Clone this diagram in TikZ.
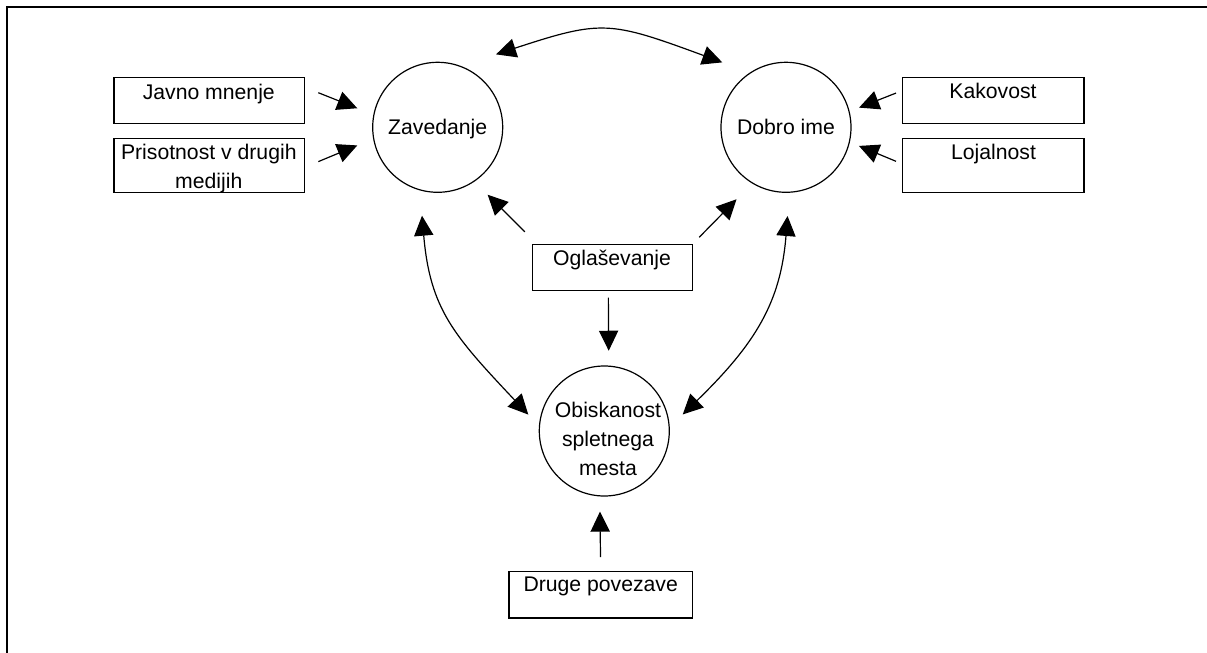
\documentclass[tikz,border=0pt]{standalone}
\usepackage{fontspec}
\setmainfont{Liberation Sans}
\usetikzlibrary{arrows.meta}

\tikzset{
  % one unit = one pixel of the layout grid, y grows downwards
  lw/.style={line width=0.6pt},
  circ/.style={draw, lw, circle, minimum size=65pt, inner sep=0pt, outer sep=0pt,
               text depth=0pt},
  box/.style={draw, lw, rectangle, inner sep=0pt, outer sep=0pt},
  lbl/.style={inner sep=0pt, outer sep=0pt},
  tip/.tip={Triangle[length=10pt,width=9.6pt]},
  arr/.style={lw, -tip},
  dbl/.style={lw, tip-tip},
}

\begin{document}
\begin{tikzpicture}[x=0.5pt, y=-0.5pt,
    every node/.style={font=\fontsize{10.6pt}{14.65pt}\selectfont}]
  \useasboundingbox (0,0) rectangle (1207,653);

  % page frame (top and left rules)
  \draw[line width=1pt] (7,653) -- (7,7) -- (1207,7);

  % circles
  \node[circ] (zav)   at (437.7,127.3) {Zavedanje};
  \node[circ] (dobro) at (786,127.3)   {Dobro ime};
  \node[circ] (obisk) at (604.3,431)   {};
  \node[lbl, align=center, anchor=north] (obisktxt) at (608,401.7)
       {Obiskanost\\spletnega\\mesta};

  % boxes
  \node[box, minimum width=95.15pt, minimum height=22.8pt] (javno) at (209.2,100.5) {};
  \node[box, minimum width=95.15pt, minimum height=27pt]   (pris)  at (209.2,165.3) {};
  \node[box, minimum width=90.85pt, minimum height=22.8pt] (kak)   at (993.2,100.5) {};
  \node[box, minimum width=90.85pt, minimum height=27pt]   (loj)   at (993.2,165.3) {};
  \node[box, minimum width=80pt,    minimum height=23pt]   (ogl)   at (612.3,267.3) {};
  \node[box, minimum width=91.65pt, minimum height=23.15pt] (druge) at (600.7,594.9) {};

  % box captions
  \node[lbl, anchor=base] (javnotxt) at (208.8,99)   {Javno mnenje};
  \node[lbl, align=center, anchor=north] (pristxt) at (208.8,144.1)
       {Prisotnost v drugih\\medijih};
  \node[lbl, anchor=base] (kaktxt)   at (993,98.3)   {Kakovost};
  \node[lbl, anchor=base] (lojtxt)   at (993.5,159.3) {Lojalnost};
  \node[lbl, anchor=base] (ogltxt)   at (612,265)    {Oglaševanje};
  \node[lbl, anchor=base] (drugetxt) at (600.7,591.7) {Druge povezave};

  % straight connectors
  \draw[arr, shorten <=7.54pt, shorten >=8.95pt] ([yshift=6.7pt]javno.east) -- (zav.169);
  \draw[arr, shorten <=7.57pt, shorten >=8.89pt] ([yshift=-1.07pt]pris.east) -- (zav.190.3);
  \draw[arr, shorten <=3.38pt, shorten >=5.38pt] ([yshift=4.97pt]kak.west) -- (dobro.14.36);
  \draw[arr, shorten <=3.42pt, shorten >=5.21pt] ([yshift=0.67pt]loj.west) -- (dobro.347.25);
  \draw[arr, shorten <=8.83pt, shorten >=9.59pt] ([xshift=-37.45pt]ogl.north) -- (zav.304.9);
  \draw[arr, shorten <=4.93pt, shorten >=11.38pt] (ogl.north east) -- (dobro.239.2);
  \draw[arr, shorten <=3.7pt, shorten >=7.71pt] ([xshift=-2pt]ogl.south) -- (obisk.86.47);
  \draw[arr, shorten <=7.35pt, shorten >=7.9pt] (druge.north) -- (obisk.266.83);

  % curved two-way connectors
  \draw[dbl, shorten <=19pt, shorten >=15.08pt]
    (zav.70.3) .. controls (602.1,19.6) and (609.4,20.85) .. (dobro.123.7);
  \draw[dbl, shorten <=13pt, shorten >=8.15pt]
    (zav.254.8) .. controls (430.1,309.6) and (454.0,335.6) .. (obisk.176.4);
  \draw[dbl, shorten <=11.93pt, shorten >=9.43pt]
    (dobro.273.9) .. controls (780.8,302.15) and (755.5,343.7) .. (obisk.3.97);
\end{tikzpicture}
\end{document}
